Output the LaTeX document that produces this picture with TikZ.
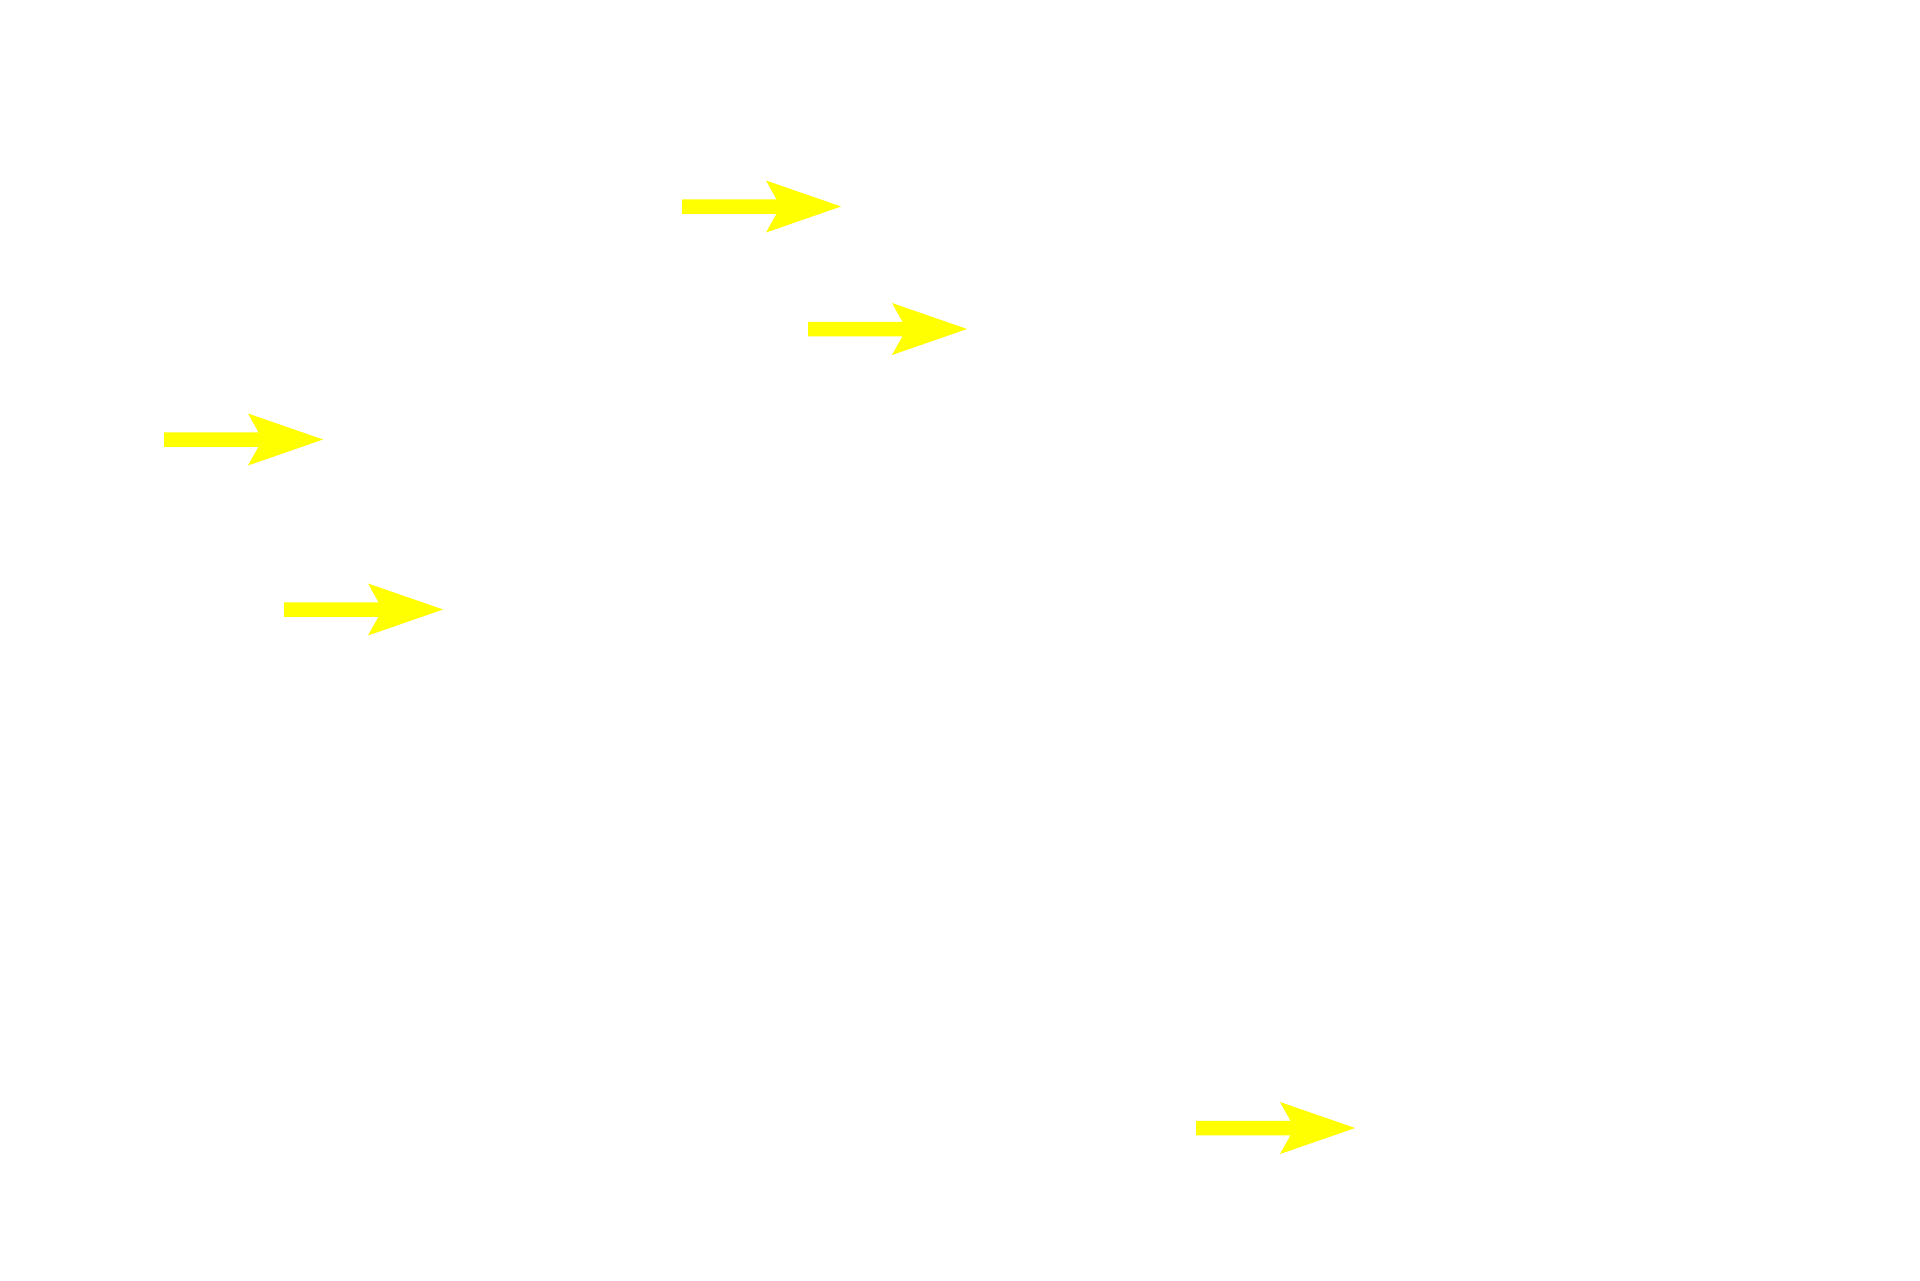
\documentclass[tikz,border=0pt]{standalone}
\begin{document}
\begin{tikzpicture}[x=0.5pt,y=-0.5pt,
  yarrowfill/.style={fill={rgb,255:red,255;green,255;blue,0}, draw=none},
  yarrow/.pic={\fill[yarrowfill] (0,-7.25) -- (94.5,-7.25) -- (84,-26) -- (159,0) -- (84,26) -- (94.5,7.25) -- (0,7.25) -- cycle;}]
\useasboundingbox[fill=white] (0,0) rectangle (1920,1280);
\pic (a1) at (682,206.5) {yarrow};
\pic (a2) at (808,329) {yarrow};
\pic (a3) at (164,439.5) {yarrow};
\pic (a4) at (284,609.5) {yarrow};
\pic (a5) at (1196,1128) {yarrow};
\end{tikzpicture}
\end{document}
